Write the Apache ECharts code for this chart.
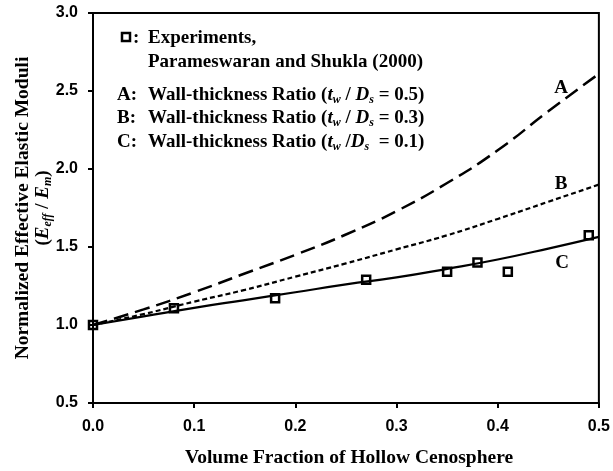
<!DOCTYPE html>
<html>
<head>
<meta charset="utf-8">
<script src="https://cdn.jsdelivr.net/npm/echarts@6/dist/echarts.min.js"></script>
<style>
  html, body { margin: 0; padding: 0; background: #fff; }
  #chart { width: 613px; height: 471px; }
</style>
</head>
<body>
<div id="chart"></div>
<script>
// volume fraction (x) and model curves
const fraction = [0, 0.05, 0.1, 0.15, 0.2, 0.25, 0.3, 0.35, 0.4, 0.45, 0.5];
const curveA = [1.0, 1.10, 1.21, 1.33, 1.45, 1.58, 1.73, 1.91, 2.12, 2.37, 2.61];
const curveB = [1.0, 1.07, 1.15, 1.225, 1.31, 1.395, 1.485, 1.575, 1.68, 1.79, 1.90];
const curveC = [1.0, 1.055, 1.11, 1.16, 1.21, 1.26, 1.305, 1.36, 1.42, 1.49, 1.565];

// experiments, Parameswaran and Shukla (2000)
const expFraction = [0, 0.08, 0.18, 0.27, 0.35, 0.38, 0.41, 0.49];
const expModuli = [1.0, 1.107, 1.171, 1.29, 1.342, 1.40, 1.342, 1.575];

const serif = '"Liberation Serif", "Times New Roman", serif';
const sans = '"Liberation Sans", Arial, sans-serif';

const zip = (xs, ys) => xs.map((x, i) => [x, ys[i]]);

const base = { fontFamily: serif, fontWeight: 'bold', fontSize: 19, lineHeight: 22, fill: '#000' };
const rich = {
  b: { fontFamily: serif, fontWeight: 'bold', fontSize: 19, lineHeight: 22, verticalAlign: 'middle' },
  i: { fontFamily: serif, fontWeight: 'bold', fontStyle: 'italic', fontSize: 19, lineHeight: 22, verticalAlign: 'middle' },
  s: { fontFamily: serif, fontWeight: 'bold', fontStyle: 'italic', fontSize: 12, lineHeight: 12, verticalAlign: 'bottom' }
};

function txt(x, y, text, extra) {
  return Object.assign({
    type: 'text', x: x, y: y, z: 100,
    style: Object.assign({ text: text, rich: rich, verticalAlign: 'middle', align: 'left' }, base)
  }, extra || {});
}

function centered(x, y, text) {
  return { type: 'text', x: x, y: y, z: 100,
    style: Object.assign({ text: text, align: 'center', verticalAlign: 'middle' }, base) };
}

const tickLabel = {
  margin: 15, color: '#000', fontFamily: sans, fontWeight: 'bold', fontSize: 16,
  formatter: v => v.toFixed(1)
};

const chart = echarts.init(document.getElementById('chart'), null, { renderer: 'canvas' });

chart.setOption({
  backgroundColor: '#fff',
  animation: false,
  grid: { left: 93, right: 10, top: 13, bottom: 68, show: true, borderColor: '#000', borderWidth: 2 },
  xAxis: {
    type: 'value', min: 0, max: 0.5, interval: 0.1,
    splitLine: { show: false },
    axisLine: { lineStyle: { color: '#000', width: 2 } },
    axisTick: { length: 5, lineStyle: { color: '#000', width: 2 } },
    axisLabel: Object.assign({}, tickLabel, { margin: 16 })
  },
  yAxis: {
    type: 'value', min: 0.5, max: 3.0, interval: 0.5,
    splitLine: { show: false },
    axisLine: { lineStyle: { color: '#000', width: 2 } },
    axisTick: { length: 5, lineStyle: { color: '#000', width: 2 } },
    axisLabel: Object.assign({}, tickLabel, { margin: 15 })
  },
  series: [
    {
      name: 'A', type: 'line', smooth: true, showSymbol: false,
      data: zip(fraction, curveA),
      lineStyle: { color: '#000', width: 2.5, type: [15, 7] }
    },
    {
      name: 'B', type: 'line', smooth: true, showSymbol: false,
      data: zip(fraction, curveB),
      lineStyle: { color: '#000', width: 2.2, type: [5, 3] }
    },
    {
      name: 'C', type: 'line', smooth: true, showSymbol: false,
      data: zip(fraction, curveC),
      lineStyle: { color: '#000', width: 2.2 }
    },
    {
      name: 'Experiments', type: 'scatter', z: 10,
      symbol: 'rect', symbolSize: 8,
      data: zip(expFraction, expModuli),
      itemStyle: { color: 'rgba(255,255,255,0)', borderColor: '#000', borderWidth: 2.5, opacity: 1 }
    }
  ],
  graphic: [
    // legend block
    { type: 'rect', z: 100, shape: { x: 122, y: 33, width: 8, height: 8 },
      style: { fill: 'none', stroke: '#000', lineWidth: 2.5 } },
    txt(133, 38, ':'),
    txt(148, 38, 'Experiments,'),
    txt(148, 62, 'Parameswaran and Shukla (2000)'),
    txt(117, 95, 'A:'),
    txt(148, 95, '{b|Wall-thickness Ratio (}{i|t}{s|w}{b| / }{i|D}{s|s}{b| = 0.5)}'),
    txt(117, 118, 'B:'),
    txt(148, 118, '{b|Wall-thickness Ratio (}{i|t}{s|w}{b| / }{i|D}{s|s}{b| = 0.3)}'),
    txt(117, 142, 'C:'),
    txt(148, 142, '{b|Wall-thickness Ratio (}{i|t}{s|w}{b| /}{i|D}{s|s}{b|  = 0.1)}'),
    // curve labels
    centered(561, 88, 'A'),
    centered(561, 184, 'B'),
    centered(562, 263, 'C'),
    // axis titles
    { type: 'text', x: 349, y: 458, z: 100,
      style: Object.assign({ text: 'Volume Fraction of Hollow Cenosphere', align: 'center', verticalAlign: 'middle' }, base, { fontSize: 19.5 }) },
    { type: 'text', x: 23, y: 208, rotation: Math.PI / 2, z: 100,
      style: Object.assign({ text: 'Normalized Effective Elastic Moduli', align: 'center', verticalAlign: 'middle' }, base, { fontSize: 19.5 }) },
    { type: 'text', x: 43, y: 208, rotation: Math.PI / 2, z: 100,
      style: Object.assign({ text: '{b|(}{i|E}{s|eff}{b| / }{i|E}{s|m}{b|)}', rich: rich, align: 'center', verticalAlign: 'middle' }, base) }
  ]
});
</script>
</body>
</html>
